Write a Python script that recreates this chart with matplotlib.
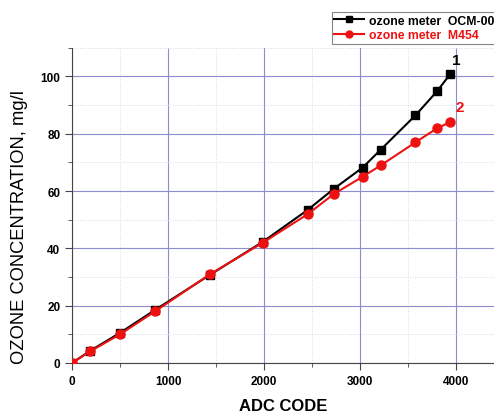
import matplotlib
matplotlib.use("Agg")
import matplotlib.pyplot as plt
from matplotlib.ticker import MultipleLocator

adc_black = [0, 187, 500, 865, 1440, 1990, 2460, 2730, 3030, 3220, 3580, 3810, 3940]
conc_black = [0, 4.2, 10.5, 18.5, 30.8, 42.3, 53.5, 60.8, 68.2, 74.5, 86.4, 95.0, 100.7]
adc_red = [0, 187, 500, 865, 1440, 1990, 2460, 2730, 3030, 3220, 3580, 3810, 3940]
conc_red = [0, 4.0, 10.0, 18.0, 31.0, 42.0, 52.0, 59.0, 65.0, 69.0, 77.0, 82.0, 84.0]
label_black = "ozone meter  OCM-00"
label_red = "ozone meter  M454"

plt.rcParams['font.family'] = ['Liberation Sans', 'DejaVu Sans']
fig = plt.figure(figsize=(4.94, 4.14), dpi=100)
ax = fig.add_axes([0.146, 0.121, 0.854, 0.761])

ax.plot(adc_black, conc_black, color='black', marker='s', markersize=5.5, lw=1.5,
        label=label_black, zorder=3)
ax.plot(adc_red, conc_red, color='#ee1111', marker='o', markersize=6.5, lw=1.5,
        label=label_red, zorder=4)

ax.set_xlim(0, 4400)
ax.set_ylim(0, 110)
ax.xaxis.set_major_locator(MultipleLocator(1000))
ax.xaxis.set_minor_locator(MultipleLocator(500))
ax.yaxis.set_major_locator(MultipleLocator(20))
ax.yaxis.set_minor_locator(MultipleLocator(10))
ax.grid(which='major', color='#8c8cd0', lw=0.8)
ax.grid(which='minor', color='#d8d8e8', lw=0.7, ls=':')
ax.set_axisbelow(True)
for s in ['top', 'right']:
    ax.spines[s].set_visible(False)
for s in ['left', 'bottom']:
    ax.spines[s].set_color('#444444')
ax.tick_params(which='both', direction='out', color='#444444')
ax.tick_params(which='major', length=5, labelsize=8.5)
ax.tick_params(which='minor', length=3)
for lbl in ax.get_xticklabels() + ax.get_yticklabels():
    lbl.set_fontweight('bold')

ax.set_xlabel('ADC CODE', fontsize=12, fontweight='bold', labelpad=8)
ax.set_ylabel('OZONE CONCENTRATION, mg/l', fontsize=13.2)
ax.yaxis.set_label_coords(-0.104, 0.435)

ax.text(3965, 104.5, '1', color='black', fontsize=11, fontweight='bold')
ax.text(4000, 88, '2', color='#ee1111', fontsize=11, fontweight='bold')

leg = fig.legend(loc='upper left', bbox_to_anchor=(0.672, 0.968), fontsize=8.8,
                 frameon=True, fancybox=False, edgecolor='#666666',
                 borderpad=0.2, labelspacing=0.2, handlelength=2.4, handletextpad=0.4,
                 borderaxespad=0)
leg.get_frame().set_linewidth(0.8)
for h in leg.legend_handles:
    h.set_markersize(5)
for t, c in zip(leg.get_texts(), ['black', '#ee1111']):
    t.set_color(c)
    t.set_fontweight('bold')

fig.savefig('out.png', dpi=100)
